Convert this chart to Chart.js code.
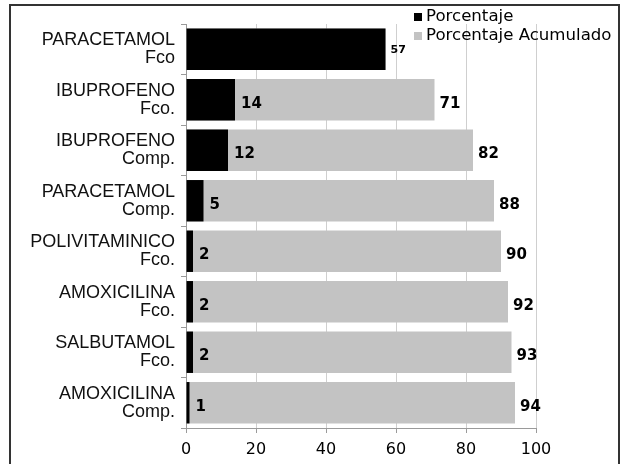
<!DOCTYPE html>
<html>
<head>
<meta charset="utf-8">
<script src="https://cdn.jsdelivr.net/npm/chart.js@4/dist/chart.umd.min.js"></script>
<style>
  html, body { margin: 0; padding: 0; background: #fff; overflow: hidden; }
  #wrap { position: relative; width: 628px; height: 464px; }
  #frame { position: absolute; left: 9px; top: 4px; width: 611px; height: 480px; border: 2px solid #333; box-sizing: border-box; }
  canvas { position: absolute; left: 0; top: 0; }
</style>
</head>
<body>
<div id="wrap">
  <div id="frame"></div>
  <canvas id="c" width="628" height="464"></canvas>
</div>
<script>
// Medicamentos (two-line labels)
const categories = [
  ['PARACETAMOL', 'Fco'],
  ['IBUPROFENO', 'Fco.'],
  ['IBUPROFENO', 'Comp.'],
  ['PARACETAMOL', 'Comp.'],
  ['POLIVITAMINICO', 'Fco.'],
  ['AMOXICILINA', 'Fco.'],
  ['SALBUTAMOL', 'Fco.'],
  ['AMOXICILINA', 'Comp.']
];
const porcentaje = [57, 14, 12, 5, 2, 2, 2, 1];
const acumulado = [57, 71, 82, 88, 90, 92, 93, 94];
const xTicks = [0, 20, 40, 60, 80, 100];

const BLACK = '#000000';
const GRAY = '#c3c3c3';

// Value labels at the end of each bar
const valueLabels = {
  id: 'valueLabels',
  afterDatasetsDraw(chart) {
    const ctx = chart.ctx;
    ctx.save();
    ctx.fillStyle = '#000';
    ctx.textAlign = 'left';
    ctx.textBaseline = 'middle';
    const metaPct = chart.getDatasetMeta(0);
    const metaAcc = chart.getDatasetMeta(1);
    metaAcc.data.forEach((bar, i) => {
      if (acumulado[i] === porcentaje[i]) return;
      ctx.font = 'bold 15px "DejaVu Sans"';
      ctx.fillText(String(acumulado[i]), bar.x + 5, bar.y + 4);
    });
    metaPct.data.forEach((bar, i) => {
      const full = acumulado[i] === porcentaje[i];
      ctx.font = full ? 'bold 11px "DejaVu Sans"' : 'bold 15px "DejaVu Sans"';
      ctx.fillText(String(porcentaje[i]), bar.x + (full ? 5 : 6), bar.y + (full ? 1 : 4));
    });
    ctx.restore();
  }
};

// Legend drawn in the top-right corner, over the plot
const cornerLegend = {
  id: 'cornerLegend',
  afterDraw(chart) {
    const ctx = chart.ctx;
    ctx.save();
    ctx.font = '16.6px "DejaVu Sans"';
    ctx.textBaseline = 'middle';
    ctx.textAlign = 'left';
    const rows = [17, 36];
    chart.data.datasets.forEach((ds, i) => {
      ctx.fillStyle = ds.backgroundColor;
      ctx.fillRect(414, rows[i] - 4, 8, 8);
      ctx.fillStyle = '#000';
      ctx.fillText(ds.label, 426, rows[i]);
    });
    ctx.restore();
  }
};

new Chart(document.getElementById('c'), {
  type: 'bar',
  data: {
    labels: categories,
    datasets: [
      {
        label: 'Porcentaje',
        data: porcentaje,
        backgroundColor: BLACK,
        grouped: false,
        order: 0,
        barPercentage: 0.82,
        categoryPercentage: 1
      },
      {
        label: 'Porcentaje Acumulado',
        data: acumulado,
        backgroundColor: GRAY,
        grouped: false,
        order: 1,
        barPercentage: 0.82,
        categoryPercentage: 1
      }
    ]
  },
  options: {
    indexAxis: 'y',
    responsive: false,
    animation: false,
    layout: { padding: { left: 0, right: 92, top: 15, bottom: 0 } },
    plugins: {
      legend: { display: false },
      tooltip: { enabled: false }
    },
    scales: {
      x: {
        min: 0,
        max: 100,
        afterBuildTicks(scale) { scale.ticks = xTicks.map(v => ({ value: v })); },
        afterFit(scale) { scale.height = 36; },
        grid: { color: '#cfcfcf', tickLength: 5, tickColor: '#9a9a9a', lineWidth: 1 },
        border: { color: '#9a9a9a' },
        ticks: { color: '#000', font: { family: 'DejaVu Sans', size: 16 }, padding: 7 }
      },
      y: {
        afterFit(scale) { scale.width = 186; },
        grid: { drawOnChartArea: false, tickLength: 5, color: '#9a9a9a' },
        border: { color: '#9a9a9a' },
        ticks: { color: '#111', font: { family: 'Liberation Sans', size: 18, lineHeight: 1.0 }, padding: 6 }
      }
    }
  },
  plugins: [valueLabels, cornerLegend]
});
</script>
</body>
</html>
